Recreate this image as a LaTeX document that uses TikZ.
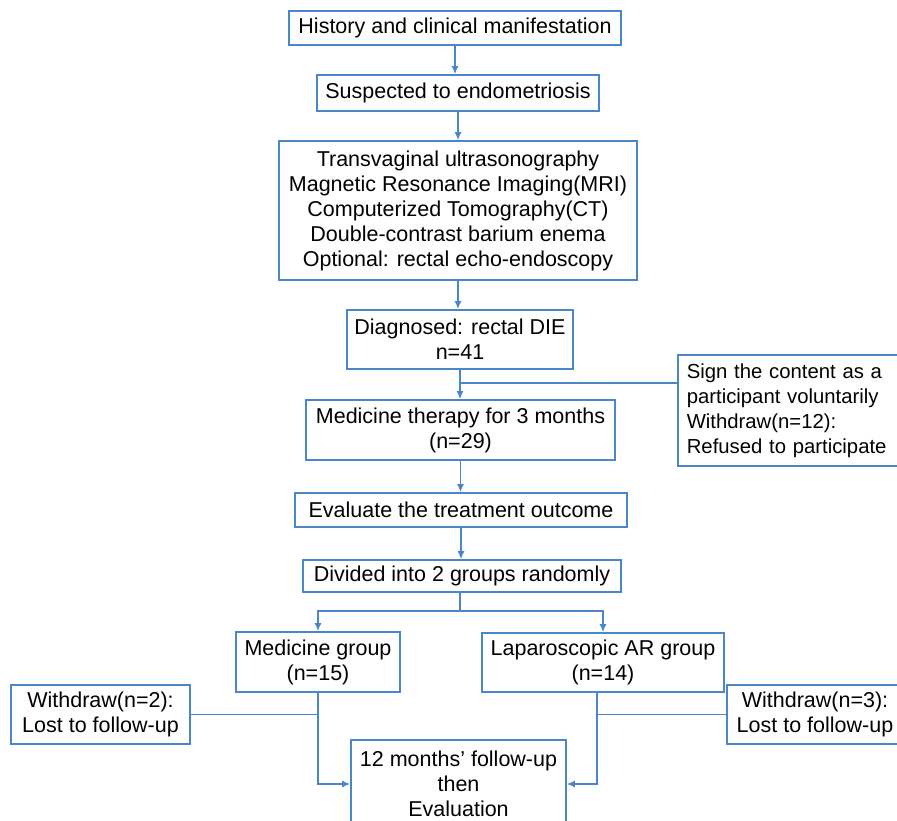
\documentclass[tikz,border=0pt]{standalone}
\usepackage{fontspec}
\setmainfont{Liberation Sans}
\usetikzlibrary{arrows.meta}
\definecolor{flowblue}{RGB}{74,134,204}
\tikzset{
  box/.style={draw=flowblue, line width=1.6pt, fill=white, align=center, inner sep=0pt, font=\fontsize{21.5}{25}\selectfont},
  link/.style={draw=flowblue, line width=1.6pt},
  arr/.style={link, -{Latex[length=8pt,width=7pt]}}
}
\begin{document}
\begin{tikzpicture}[x=1pt,y=-1pt]
\clip (0,0) rectangle (897,821);
\fill[white] (0,0) rectangle (897,821);
% main column
\node[box, minimum width=332pt, minimum height=34pt] (hist) at (455,28) {History and clinical manifestation};
\node[box, minimum width=282pt, minimum height=36pt] (susp) at (458,93) {Suspected to endometriosis};
\node[box, minimum width=358pt, minimum height=139pt] (exam) at (458,210.5) {Transvaginal ultrasonography\\Magnetic Resonance Imaging(MRI)\\Computerized Tomography(CT)\\Double-contrast barium enema\\Optional: rectal echo-endoscopy};
\node[box, minimum width=226pt, minimum height=59pt] (diag) at (460,339.5) {Diagnosed: rectal DIE\\n=41};
\node[box, minimum width=309pt, minimum height=60pt] (medt) at (460.5,430) {Medicine therapy for 3 months\\(n=29)};
\node[box, align=left, anchor=west, inner xsep=9pt, text width=215pt, minimum height=111pt, font=\fontsize{20.3}{25}\selectfont] (sign) at (677,410.5) {Sign the content as a\\participant voluntarily\\Withdraw(n=12):\\Refused to participate};
\node[box, minimum width=332pt, minimum height=34pt] (eval) at (461,510) {Evaluate the treatment outcome};
\node[box, minimum width=318pt, minimum height=32pt] (divd) at (462,576) {Divided into 2 groups randomly};
% two groups
\node[box, minimum width=164pt, minimum height=60pt] (medg) at (318,662) {Medicine group\\(n=15)};
\node[box, minimum width=242pt, minimum height=59pt] (lapg) at (603,662.5) {Laparoscopic AR group\\(n=14)};
\node[box, minimum width=179pt, minimum height=59pt] (wdl) at (100.5,714.5) {Withdraw(n=2):\\Lost to follow-up};
\node[box, minimum width=176pt, minimum height=59pt] (wdr) at (815,714.5) {Withdraw(n=3):\\Lost to follow-up};
\node[box, minimum width=215pt, minimum height=88pt] (fup) at (458.5,784) {12 months' follow-up\\then\\Evaluation};
% connectors
\coordinate (sj) at (460,383);
\coordinate (split) at (460,611);
\coordinate (lapdrop) at ([xshift=-6pt]lapg.south);
\draw[arr] (hist.south) -- (hist.south |- susp.north);
\draw[arr] (susp.south) -- (susp.south |- exam.north);
\draw[arr] (exam.south) -- (exam.south |- diag.north);
\draw[arr] (diag.south) -- (diag.south |- medt.north);
\draw[link] (sj) -- (sj -| sign.west);
\draw[arr] (medt.south) -- (medt.south |- eval.north);
\draw[arr] (eval.south) -- (eval.south |- divd.north);
\draw[link] (divd.south -| split) -- (split);
\draw[arr] (split) -| (medg.north);
\draw[arr] (split) -| (lapg.north);
\draw[arr] (medg.south) |- (fup.west);
\draw[arr] (lapdrop) |- (fup.east);
\draw[link] (wdl.east) -- (wdl.east -| medg.south);
\draw[link] (wdr.west) -- (wdr.west -| lapdrop);
\end{tikzpicture}
\end{document}
